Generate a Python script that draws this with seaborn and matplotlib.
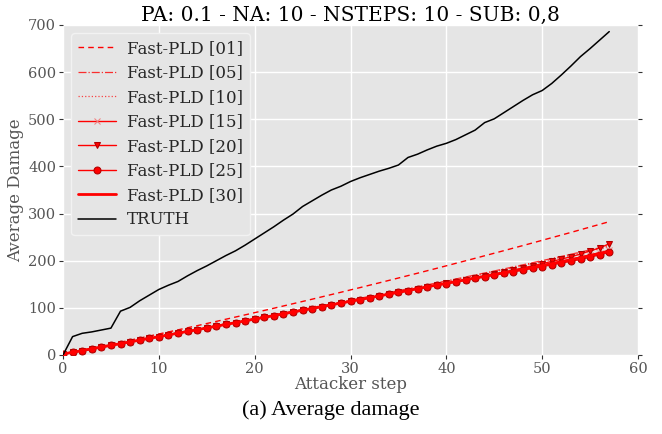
import matplotlib
matplotlib.use("Agg")
import matplotlib.pyplot as plt
import seaborn as sns
import numpy as np
import pandas as pd

steps = list(range(58))

pld01 = [2.0, 6.1, 10.3, 14.4, 18.6, 22.9, 27.1, 31.4, 35.7, 40.1, 44.5, 48.9, 53.3, 57.8, 62.2,
         66.8, 71.3, 75.9, 80.5, 85.1, 89.8, 94.5, 99.2, 104.0, 108.8, 113.6, 118.4, 123.3, 128.2,
         133.1, 138.1, 143.0, 148.1, 153.1, 158.2, 163.3, 168.4, 173.5, 178.7, 183.9, 189.2, 194.5,
         199.8, 205.1, 210.5, 215.9, 221.3, 226.8, 232.2, 237.7, 243.3, 248.9, 254.4, 260.0, 265.7,
         271.4, 277.1, 282.8]
pld05 = [2.3, 6.0, 9.7, 13.4, 17.1, 20.8, 24.5, 28.3, 32.0, 35.8, 39.5, 43.3, 47.0, 50.8, 54.6,
         58.4, 62.2, 66.0, 69.8, 73.6, 77.4, 81.3, 85.1, 89.0, 92.9, 96.8, 100.7, 104.6, 108.5,
         112.5, 116.4, 120.4, 124.4, 128.4, 132.5, 136.5, 140.6, 144.7, 148.8, 153.0, 157.1, 161.3,
         165.5, 169.8, 174.0, 178.3, 182.6, 187.0, 191.4, 195.8, 200.2, 204.7, 209.2, 213.7, 218.3,
         222.9, 227.5, 232.2]
pld10 = [2.2, 5.9, 9.6, 13.3, 17.0, 20.7, 24.4, 28.1, 31.8, 35.5, 39.2, 42.9, 46.7, 50.4, 54.1,
         57.9, 61.6, 65.4, 69.1, 72.9, 76.7, 80.5, 84.3, 88.1, 91.9, 95.7, 99.6, 103.5, 107.4,
         111.3, 115.2, 119.1, 123.1, 127.1, 131.1, 135.1, 139.1, 143.2, 147.3, 151.4, 155.5, 159.6,
         163.8, 168.0, 172.2, 176.4, 180.7, 185.0, 189.3, 193.7, 198.1, 202.5, 207.0, 211.5, 216.0,
         220.5, 225.0, 229.5]
pld15 = [2.0, 5.8, 9.4, 13.1, 16.7, 20.4, 24.1, 27.8, 31.5, 35.2, 38.9, 42.6, 46.3, 50.0, 53.7,
         57.4, 61.1, 64.9, 68.6, 72.4, 76.1, 79.9, 83.6, 87.4, 91.1, 94.9, 98.7, 102.5, 106.3,
         110.1, 113.9, 117.7, 121.5, 125.3, 129.1, 132.9, 136.8, 140.7, 144.6, 148.4, 152.0, 155.8,
         159.5, 163.2, 167.2, 171.0, 174.8, 178.7, 182.6, 186.6, 190.6, 194.8, 199.0, 203.3, 207.8,
         212.4, 217.1, 222.0]
pld20 = [2.0, 5.7, 9.3, 13.0, 16.6, 20.3, 24.0, 27.7, 31.4, 35.1, 38.8, 42.5, 46.2, 49.9, 53.6,
         57.3, 61.0, 64.8, 68.5, 72.3, 76.0, 79.8, 83.5, 87.3, 91.0, 94.8, 98.6, 102.4, 106.2,
         110.0, 113.8, 117.6, 121.4, 125.2, 129.0, 132.8, 136.6, 140.5, 144.3, 148.2, 152.0, 155.9,
         159.8, 163.8, 167.8, 171.9, 176.0, 180.3, 184.7, 189.2, 193.8, 198.5, 203.3, 208.5, 214.0,
         221.0, 227.0, 236.0]
pld25 = [2.0, 5.7, 9.3, 13.0, 16.6, 20.3, 24.0, 27.7, 31.4, 35.1, 38.8, 42.5, 46.2, 49.9, 53.6,
         57.3, 61.0, 64.8, 68.5, 72.3, 76.0, 79.8, 83.5, 87.3, 91.0, 94.8, 98.6, 102.4, 106.2,
         110.0, 113.8, 117.6, 121.4, 125.2, 129.0, 132.8, 136.6, 140.5, 144.3, 148.0, 151.5, 155.2,
         158.8, 162.4, 166.0, 169.6, 173.1, 176.8, 180.4, 184.0, 187.6, 191.3, 195.0, 198.8, 202.8,
         207.5, 212.5, 217.5]
pld30 = [2.0, 5.8, 9.4, 13.1, 16.7, 20.4, 24.1, 27.8, 31.5, 35.2, 38.9, 42.6, 46.3, 50.0, 53.7,
         57.4, 61.1, 64.9, 68.6, 72.4, 76.1, 79.9, 83.6, 87.4, 91.1, 94.9, 98.7, 102.5, 106.3,
         110.1, 113.9, 117.7, 121.5, 125.3, 129.1, 132.9, 136.8, 140.7, 144.6, 148.4, 152.0, 155.8,
         159.5, 163.2, 166.9, 170.6, 174.3, 178.1, 181.9, 185.7, 189.6, 193.6, 197.7, 201.9, 206.3,
         210.8, 215.4, 220.0]
truth = [0, 39, 46, 49, 53, 57, 93, 101, 115, 127, 139, 148, 156, 168, 179, 189, 200, 211, 221,
         233, 246, 259, 272, 286, 299, 315, 327, 339, 350, 358, 368, 376, 383, 390, 396, 403, 419,
         426, 435, 443, 449, 457, 467, 477, 493, 501, 514, 527, 540, 552, 561, 576, 594, 613, 633,
         650, 668, 686]

labels = ["Fast-PLD [01]", "Fast-PLD [05]", "Fast-PLD [10]", "Fast-PLD [15]",
          "Fast-PLD [20]", "Fast-PLD [25]", "Fast-PLD [30]", "TRUTH"]
x_ticks = [0, 10, 20, 30, 40, 50, 60]
y_ticks = [0, 100, 200, 300, 400, 500, 600, 700]

series = [pld01, pld05, pld10, pld15, pld20, pld25, pld30, truth]
styles = [
    dict(color="red", linestyle=(0, (4, 3)), linewidth=1.0),
    dict(color="red", linestyle="-.", linewidth=0.9, alpha=0.8),
    dict(color="red", linestyle=":", linewidth=0.9, alpha=0.7),
    dict(color="red", linestyle="-", linewidth=1.0, marker="x", markersize=4,
         markeredgecolor="#F08080"),
    dict(color="red", linestyle="-", linewidth=1.0, marker="v", markersize=5,
         markeredgecolor="#B00000"),
    dict(color="red", linestyle="-", linewidth=1.0, marker="o", markersize=5,
         markeredgecolor="#B00000"),
    dict(color="red", linestyle="-", linewidth=2.0),
    dict(color="black", linestyle="-", linewidth=1.1),
]

sns.set_theme(style="darkgrid")
plt.rcParams["font.family"] = ["DejaVu Serif"]

fig = plt.figure(figsize=(6.62, 4.34), dpi=100)
ax = fig.add_axes([63 / 662, 1 - 355 / 434, (638 - 63) / 662, (355 - 25) / 434])
ax.set_facecolor("#E5E5E5")

for lab, vals, st in zip(labels, series, styles):
    df = pd.DataFrame({"step": steps, "dmg": vals})
    sns.lineplot(data=df, x="step", y="dmg", ax=ax, label=lab, **st)

ax.set_xlim(0, 60)
ax.set_ylim(0, 700)
ax.set_xticks(x_ticks)
ax.set_yticks(y_ticks)
ax.grid(True, color="white", linewidth=1.0)
for s in ax.spines.values():
    s.set_visible(False)
ax.tick_params(axis="both", which="both", direction="out", length=3, width=0.8,
               color="#333333", labelcolor="#555555", labelsize=10.5, pad=2,
               bottom=True, left=True, right=True, top=False)
ax.set_xlabel("Attacker step", fontsize=12, color="#555555", labelpad=0)
ax.set_ylabel("Average Damage", fontsize=12, color="#555555", labelpad=3)
ax.set_title("PA: 0.1 - NA: 10 - NSTEPS: 10 - SUB: 0,8", fontsize=14.5, color="black", pad=1)

leg = ax.legend(loc="upper left", fontsize=12, frameon=True, handlelength=2.3,
                labelspacing=0.45, borderpad=0.4, handletextpad=0.65,
                bbox_to_anchor=(0.0, 1.0))
leg.get_frame().set_facecolor("#E5E5E5")
leg.get_frame().set_edgecolor("#F2F2F2")
leg.get_frame().set_linewidth(1.0)
leg.get_frame().set_alpha(1.0)

fig.text(331 / 662, 1 - 410 / 434, "(a) Average damage", ha="center", va="center",
         fontsize=16, family=["Liberation Serif"], color="black")

fig.savefig("out.png", dpi=100)
